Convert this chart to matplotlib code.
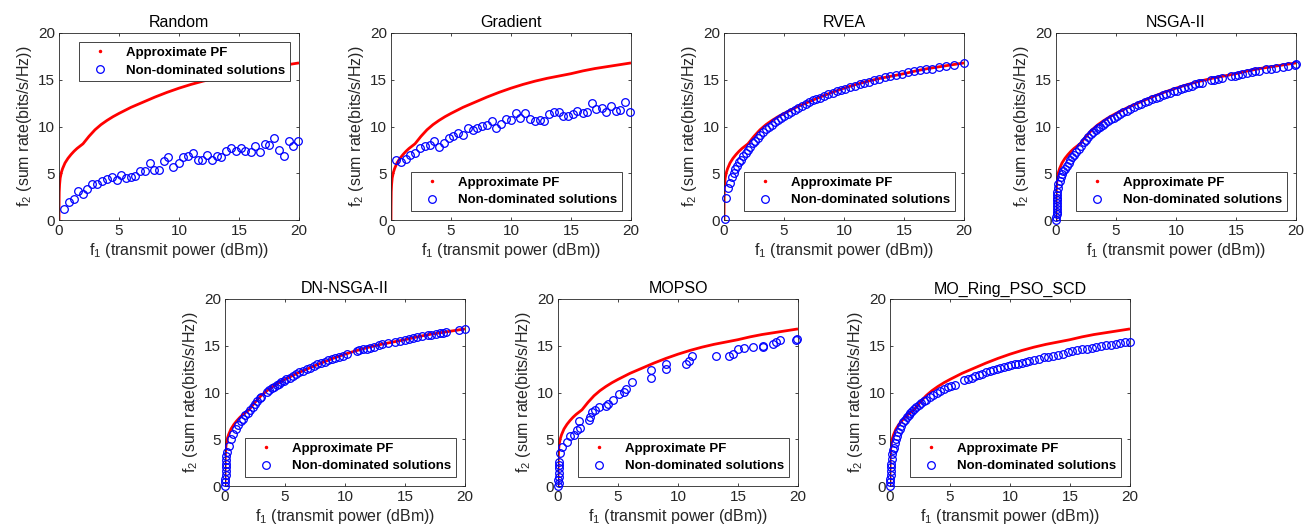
import numpy as np
import matplotlib
matplotlib.use("Agg")
import matplotlib.pyplot as plt
from matplotlib.lines import Line2D

plt.rcParams['font.family'] = ['Liberation Sans', 'DejaVu Sans']
plt.rcParams['mathtext.fontset'] = 'custom'
plt.rcParams['mathtext.rm'] = 'Liberation Sans'
plt.rcParams['mathtext.it'] = 'Liberation Sans:italic'

# === Approximate PF (same curve in every panel) ===
pf_x = [0, 0.005, 0.02, 0.05, 0.1, 0.2, 0.3, 0.5, 0.75, 1.0, 1.25, 1.5, 1.75, 2.0,
        2.25, 2.5, 3.0, 3.5, 4.0, 4.5, 5.0, 6.0, 7.0, 8.0, 9.0, 10, 11, 12, 13, 14,
        15, 16, 17, 18, 19, 20]
pf_y = [0, 1.5, 3.0, 3.8, 4.5, 5.1, 5.5, 6.1, 6.6, 7.0, 7.35, 7.65, 7.9, 8.15,
        8.55, 8.95, 9.65, 10.2, 10.65, 11.05, 11.4, 12.05, 12.6, 13.15, 13.65, 14.1,
        14.5, 14.85, 15.15, 15.4, 15.65, 15.95, 16.2, 16.4, 16.6, 16.8]

# === Non-dominated solutions (f1, f2) per algorithm ===
random_pts = [
    (0.39, 1.14), (0.8, 1.96), (1.23, 2.2), (1.59, 3.06), (2.0, 2.78), (2.34, 3.35),
    (2.79, 3.84), (3.2, 3.8), (3.57, 4.16), (3.96, 4.41), (4.38, 4.56), (4.8, 4.27),
    (5.16, 4.77), (5.58, 4.48), (5.97, 4.56), (6.36, 4.73), (6.75, 5.2), (7.17, 5.27),
    (7.56, 6.12), (7.92, 5.3), (8.37, 5.3), (8.73, 6.3), (9.12, 6.73), (9.54, 5.69),
    (9.96, 6.12), (10.32, 6.76), (10.74, 6.87), (11.13, 7.15), (11.55, 6.44),
    (11.94, 6.44), (12.33, 6.94), (12.75, 6.44), (13.17, 6.83), (13.53, 6.69),
    (13.92, 7.37), (14.34, 7.65), (14.73, 7.4), (15.15, 7.65), (15.54, 7.33),
    (15.96, 7.3), (16.35, 7.9), (16.74, 7.3), (17.13, 8.11), (17.52, 7.97),
    (17.91, 8.79), (18.33, 7.51), (18.72, 6.83), (19.13, 8.4), (19.53, 7.9), (19.94, 8.5)]

gradient_pts = [
    (0.42, 6.37), (0.83, 6.16), (1.25, 6.55), (1.61, 6.9), (2.03, 7.15), (2.42, 7.69),
    (2.83, 7.9), (3.22, 8.04), (3.61, 8.47), (4.0, 7.86), (4.39, 8.26), (4.8, 8.75),
    (5.19, 9.0), (5.58, 9.29), (6.0, 9.04), (6.39, 9.89), (6.8, 9.61), (7.19, 9.79),
    (7.61, 10.1), (8.0, 10.21), (8.42, 10.57), (8.78, 9.82), (9.19, 10.25),
    (9.58, 10.75), (10.0, 10.68), (10.39, 11.42), (10.78, 10.89), (11.19, 11.42),
    (11.56, 10.82), (11.97, 10.6), (12.39, 10.71), (12.78, 10.57), (13.17, 11.39),
    (13.58, 11.57), (13.97, 11.57), (14.36, 11.1), (14.78, 11.14), (15.19, 11.32),
    (15.53, 11.64), (15.97, 11.46), (16.36, 11.6), (16.75, 12.53), (17.11, 11.89),
    (17.56, 11.99), (17.94, 11.57), (18.33, 12.24), (18.72, 11.67), (19.11, 11.78),
    (19.5, 12.6), (19.92, 11.57)]

rvea_pts = [
    (0.1, 0.1), (0.2, 2.4), (0.36, 3.4), (0.5, 4.0), (0.65, 4.6), (0.8, 5.05),
    (0.95, 5.45), (1.1, 5.8), (1.25, 6.15), (1.4, 6.45), (1.6, 6.8), (1.8, 7.15),
    (2.0, 7.5), (2.2, 7.85), (2.4, 8.2), (2.6, 8.5), (2.8, 8.8), (3.0, 9.1),
    (3.25, 9.4), (3.5, 9.7), (3.75, 9.95), (4.0, 10.2), (4.25, 10.45), (4.5, 10.7),
    (4.75, 10.9), (5.0, 11.1), (5.3, 11.35), (5.6, 11.6), (5.9, 11.8), (6.2, 12.0),
    (6.5, 12.2), (6.8, 12.4), (7.1, 12.6), (7.4, 12.8), (7.7, 12.95), (8.0, 13.1),
    (8.35, 13.3), (8.7, 13.45), (9.05, 13.6), (9.4, 13.75), (9.75, 13.9),
    (10.1, 14.05), (10.5, 14.2), (10.9, 14.35), (11.3, 14.5), (11.7, 14.65),
    (12.1, 14.8), (12.5, 14.95), (12.95, 15.1), (13.4, 15.25), (13.85, 15.4),
    (14.3, 15.5), (14.8, 15.65), (15.3, 15.8), (15.8, 15.9), (16.3, 16.0),
    (16.8, 16.1), (17.3, 16.2), (17.9, 16.35), (18.5, 16.45), (19.2, 16.6), (20.0, 16.75)]

nsga2_pts = [
    (0.03, 0.0), (0.04, 0.3), (0.05, 0.6), (0.05, 0.9), (0.06, 1.2), (0.06, 1.5),
    (0.07, 1.8), (0.08, 2.1), (0.08, 2.4), (0.09, 2.7), (0.1, 3.0), (0.15, 3.4),
    (0.2, 3.8), (0.3, 4.2), (0.4, 4.6), (0.5, 4.9), (0.6, 5.2), (0.75, 5.5),
    (0.9, 5.8), (1.05, 6.1), (1.2, 6.4), (1.35, 6.7), (1.5, 6.95), (1.7, 7.3),
    (1.9, 7.6), (2.1, 7.95), (2.3, 8.3), (2.5, 8.6), (2.7, 8.9), (2.9, 9.15),
    (3.1, 9.4), (3.3, 9.6), (3.5, 9.8), (3.7, 10.0), (3.9, 10.2), (4.1, 10.35),
    (4.35, 10.55), (4.6, 10.75), (4.85, 10.95), (5.1, 11.15), (5.35, 11.35),
    (5.6, 11.5), (5.9, 11.7), (6.2, 11.9), (6.5, 12.05), (6.8, 12.25), (7.1, 12.4),
    (7.4, 12.6), (7.7, 12.75), (8.0, 12.9), (8.3, 13.05), (8.6, 13.2), (8.9, 13.35),
    (9.2, 13.5), (9.5, 13.6), (9.8, 13.75), (10.1, 13.85), (10.4, 14.0), (10.7, 14.1),
    (11.0, 14.25), (11.3, 14.35), (11.6, 14.5), (11.9, 14.6), (12.2, 14.7),
    (12.9, 14.95), (13.2, 15.0), (13.5, 15.1), (13.8, 15.2), (14.6, 15.4),
    (14.9, 15.45), (15.2, 15.55), (15.5, 15.6), (15.9, 15.7), (16.3, 15.8),
    (16.6, 15.9), (16.9, 15.95), (17.5, 16.1), (17.9, 16.2), (18.3, 16.3),
    (18.9, 16.4), (19.3, 16.5), (19.9, 16.6), (20.0, 16.65)]

dn_nsga2_pts = [
    (0.02, 0.0), (0.03, 0.4), (0.04, 0.8), (0.05, 1.2), (0.06, 1.6), (0.07, 2.0),
    (0.08, 2.4), (0.1, 2.8), (0.12, 3.2), (0.15, 3.6), (0.3, 4.3), (0.5, 5.0),
    (0.7, 5.6), (0.9, 6.1), (1.1, 6.5), (1.3, 6.9), (1.5, 7.2), (1.7, 7.55),
    (1.9, 7.85), (2.1, 8.15), (2.3, 8.5), (2.5, 8.8), (2.7, 9.1), (2.9, 9.4),
    (3.0, 9.55), (3.5, 10.1), (3.7, 10.3), (3.9, 10.45), (4.1, 10.6), (4.3, 10.8),
    (4.5, 10.95), (4.7, 11.1), (4.9, 11.25), (5.1, 11.4), (5.4, 11.6), (5.7, 11.8),
    (5.9, 11.95), (6.2, 12.15), (6.5, 12.3), (6.8, 12.5), (7.1, 12.65), (7.4, 12.85),
    (7.7, 13.0), (8.0, 13.15), (8.3, 13.3), (8.6, 13.45), (8.9, 13.6), (9.2, 13.7),
    (9.5, 13.85), (9.8, 13.95), (10.2, 14.1), (11.0, 14.45), (11.2, 14.5),
    (11.5, 14.6), (11.8, 14.7), (12.1, 14.8), (12.4, 14.9), (12.8, 15.05),
    (13.1, 15.15), (13.6, 15.3), (14.2, 15.45), (14.6, 15.55), (15.0, 15.65),
    (15.3, 15.75), (15.7, 15.85), (16.0, 15.95), (16.4, 16.05), (16.9, 16.15),
    (17.2, 16.2), (17.6, 16.3), (17.9, 16.35), (18.2, 16.4), (18.4, 16.45),
    (19.5, 16.65), (20.0, 16.75)]

mopso_pts = [
    (0.02, 0.0), (0.05, 0.3), (0.03, 0.64), (0.08, 1.0), (0.06, 1.4), (0.1, 1.9),
    (0.05, 2.2), (0.12, 2.6), (0.2, 3.5), (0.33, 4.2), (0.75, 4.75), (1.03, 5.3),
    (1.3, 5.45), (1.59, 6.0), (1.78, 6.9), (1.8, 6.2), (2.56, 7.1), (2.7, 7.4),
    (2.84, 7.9), (3.1, 8.1), (3.4, 8.4), (3.96, 8.55), (4.15, 8.8), (4.57, 9.2),
    (5.1, 9.8), (5.5, 10.05), (5.63, 10.35), (6.19, 11.1), (7.72, 11.5),
    (7.72, 12.4), (9.04, 12.55), (9.04, 13.0), (10.65, 13.05), (10.93, 13.4),
    (11.2, 13.9), (13.16, 13.9), (14.28, 13.95), (14.56, 14.15), (14.98, 14.7),
    (15.53, 14.75), (16.23, 14.85), (17.07, 14.9), (17.1, 15.0), (17.9, 15.2),
    (18.18, 15.4), (18.52, 15.6), (19.86, 15.65), (19.9, 15.7)]

ring_pts = [
    (0.0, 0.0), (0.02, 0.4), (0.04, 0.8), (0.06, 1.2), (0.08, 1.6), (0.1, 2.0),
    (0.12, 2.4), (0.15, 2.9), (0.2, 3.4), (0.25, 3.8), (0.3, 4.1), (0.4, 4.6),
    (0.5, 5.0), (0.6, 5.4), (0.7, 5.75), (0.8, 6.05), (0.95, 6.45), (1.1, 6.8),
    (1.25, 7.1), (1.4, 7.35), (1.55, 7.6), (1.7, 7.8), (1.85, 8.0), (2.0, 8.2),
    (2.2, 8.45), (2.4, 8.7), (2.6, 8.9), (2.8, 9.05), (3.0, 9.25), (3.3, 9.5),
    (3.6, 9.75), (3.9, 9.95), (4.2, 10.15), (4.5, 10.35), (4.8, 10.55), (5.1, 10.7),
    (5.4, 10.85), (6.2, 11.3), (6.5, 11.45), (6.8, 11.6), (7.1, 11.75), (7.4, 11.9),
    (7.7, 12.0), (8.0, 12.15), (8.3, 12.25), (8.6, 12.4), (8.9, 12.5), (9.2, 12.6),
    (9.5, 12.7), (9.8, 12.8), (10.1, 12.9), (10.4, 13.0), (10.7, 13.1), (11.0, 13.2),
    (11.3, 13.3), (11.6, 13.4), (12.0, 13.5), (12.4, 13.6), (12.8, 13.75),
    (13.2, 13.85), (13.6, 13.95), (14.0, 14.05), (14.4, 14.15), (14.8, 14.3),
    (15.2, 14.4), (15.6, 14.5), (16.0, 14.6), (16.4, 14.7), (16.8, 14.8),
    (17.2, 14.9), (17.6, 14.95), (18.0, 15.05), (18.4, 15.1), (18.8, 15.2),
    (19.2, 15.3), (19.6, 15.4), (20.0, 15.45)]

panels = [
    ("Random", random_pts, "upper right"),
    ("Gradient", gradient_pts, "lower right"),
    ("RVEA", rvea_pts, "lower right"),
    ("NSGA-II", nsga2_pts, "lower right"),
    ("DN-NSGA-II", dn_nsga2_pts, "lower right"),
    ("MOPSO", mopso_pts, "lower right"),
    ("MO_Ring_PSO_SCD", ring_pts, "lower right"),
]

# axes positions [left, bottom, width, height] in figure fraction
W, H = 240 / 1305, 187 / 532
top_b, bot_b = (532 - 220) / 532, (532 - 486) / 532
positions = [
    [59 / 1305, top_b, W, H], [391 / 1305, top_b, W, H],
    [724 / 1305, top_b, W, H], [1056 / 1305, top_b, W, H],
    [225 / 1305, bot_b, W, H], [558 / 1305, bot_b, W, H],
    [890 / 1305, bot_b, W, H],
]

dark = '#262626'
fig = plt.figure(figsize=(13.05, 5.32), dpi=100)

for (title, pts, loc), pos in zip(panels, positions):
    ax = fig.add_axes(pos)
    px, py = zip(*pts)
    ax.plot(pf_x, pf_y, color='red', lw=2.0, zorder=2, solid_capstyle='butt')
    ax.plot(px, py, 'o', ls='none', mfc='none', mec='blue', ms=5.5, mew=0.9,
            zorder=3, clip_on=False)
    ax.set_xlim(0, 20)
    ax.set_ylim(0, 20)
    ax.set_xticks([0, 5, 10, 15, 20])
    ax.set_yticks([0, 5, 10, 15, 20])
    ax.tick_params(direction='in', top=True, right=True, length=2.5, width=0.6,
                   labelsize=11, colors=dark, pad=3)
    for s in ax.spines.values():
        s.set_color(dark)
        s.set_linewidth(0.6)
    ax.set_title(title, fontsize=11.5, color='black', pad=4)
    ax.set_xlabel(r'f$_\mathrm{1}$ (transmit power (dBm))', fontsize=11.5, color=dark, labelpad=2)
    ax.set_ylabel(r'f$_\mathrm{2}$ (sum rate(bits/s/Hz))', fontsize=11.5, color=dark, labelpad=3)

    handles = [
        Line2D([], [], color='red', marker='.', ls='none', ms=3),
        Line2D([], [], color='blue', marker='o', ls='none', mfc='none', ms=5.5, mew=0.9),
    ]
    leg = ax.legend(handles, ['Approximate PF', 'Non-dominated solutions'], loc=loc,
                    prop={'weight': 'bold', 'size': 9.5}, fancybox=False,
                    framealpha=1, edgecolor=dark, borderpad=0.35, labelspacing=0.4,
                    handlelength=2.5, handletextpad=0.7, borderaxespad=0.7)
    leg.get_frame().set_linewidth(0.6)

plt.savefig("out.png", dpi=100)
